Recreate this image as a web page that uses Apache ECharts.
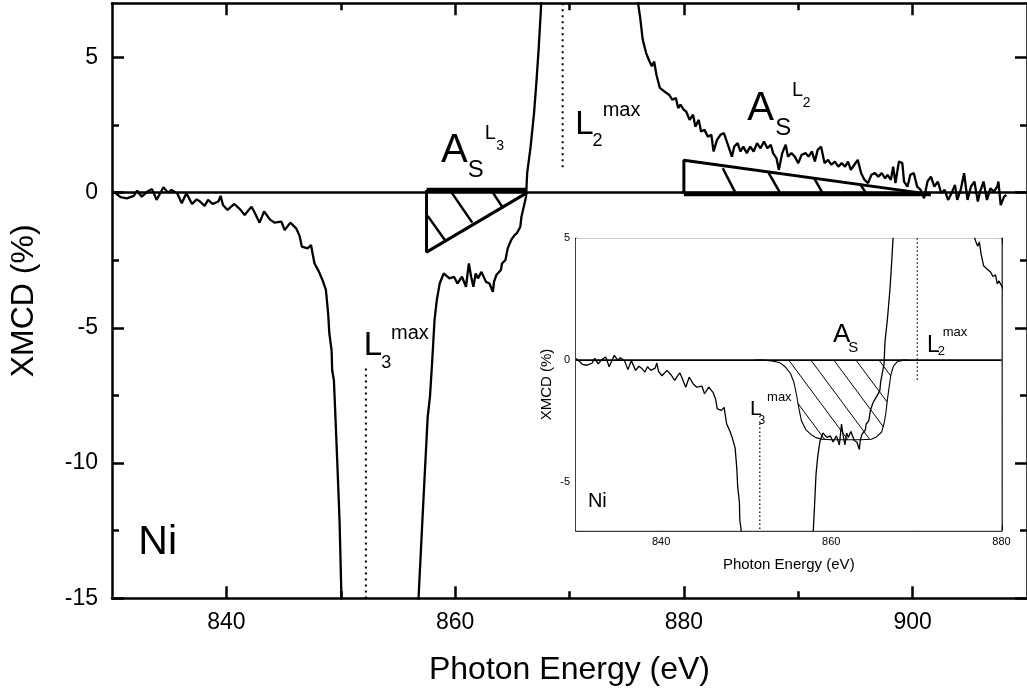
<!DOCTYPE html>
<html><head><meta charset="utf-8">
<script src="https://cdn.jsdelivr.net/npm/echarts@6/dist/echarts.min.js"></script>
<style>html,body{margin:0;padding:0;background:#fff}#c{width:1027px;height:692px}</style>
</head><body><div id="c"></div>
<script>
// ---------- data ----------
const energy = [830.0,830.3,830.75,831.3,831.9,832.2,832.6,833.1,833.5,833.9,834.5,834.9,835.2,835.7,836.1,836.5,837.0,837.4,837.7,838.1,838.4,838.8,839.3,839.5,839.7,840.1,840.7,841.2,841.6,841.9,842.2,842.5,842.9,843.3,843.8,844.2,844.8,845.1,845.6,846.1,846.4,846.6,847.1,847.4,847.7,848.1,848.4,848.7,848.9,849.0,849.2,849.25,849.4,849.5,849.7,849.9,850.06,850.2,856.6,856.8,857.2,857.6,857.8,858.0,858.1,858.2,858.4,858.65,859.0,859.5,859.9,860.2,860.6,860.95,861.2,861.4,861.6,861.8,862.0,862.3,862.7,863.0,863.3,863.4,863.6,864.0,864.1,864.4,864.6,864.9,865.2,865.4,865.7,865.8,866.0,866.2,866.3,866.6,866.9,867.1,867.3,867.5,867.7,875.7,876.0,876.2,876.4,876.7,877.0,877.2,877.4,877.6,877.9,878.3,878.7,879.0,879.3,879.5,879.7,880.0,880.2,880.5,880.8,881.0,881.3,881.5,881.8,882.1,882.4,882.6,882.9,883.2,883.5,883.8,884.2,884.4,884.7,884.95,885.2,885.5,885.8,886.1,886.4,886.7,887.0,887.3,887.6,887.8,888.1,888.3,888.6,888.9,889.1,889.4,889.7,890.0,890.3,890.65,890.9,891.2,891.45,891.7,892.0,892.3,892.6,892.9,893.2,893.5,893.8,894.1,894.35,894.6,894.9,895.2,895.5,895.8,896.1,896.4,896.7,897.0,897.3,897.6,897.8,898.1,898.3,898.5,898.8,899.1,899.25,899.55,899.8,900.1,900.4,900.7,901.0,901.3,901.6,901.9,902.2,902.5,902.8,903.1,903.4,903.7,903.9,904.2,904.5,904.8,905.1,905.4,905.7,905.9,906.2,906.5,906.8,907.1,907.4,907.5,907.7,908.0,908.2];
const xmcd = [0.07,-0.02,-0.17,-0.21,-0.12,0.07,-0.15,0.04,0.13,-0.27,0.2,0.0,0.1,-0.02,-0.39,-0.02,-0.42,-0.25,-0.33,-0.49,-0.27,-0.42,-0.33,-0.12,-0.46,-0.64,-0.42,-0.62,-0.83,-0.67,-0.52,-0.76,-1.11,-0.70,-0.99,-1.11,-1.07,-1.38,-1.11,-1.32,-1.6,-2.0,-2.06,-1.94,-2.61,-2.93,-3.23,-3.6,-4.47,-5.2,-5.83,-6.57,-6.94,-7.93,-10.0,-12.2,-14.96,-17.5,-17.5,-15.0,-11.6,-8.3,-7.55,-6.2,-5.46,-4.71,-3.97,-3.36,-2.99,-3.17,-3.11,-3.36,-3.11,-3.48,-2.62,-3.11,-3.48,-2.99,-3.17,-2.93,-3.3,-3.36,-3.67,-3.3,-3.05,-2.86,-2.62,-2.49,-2.06,-1.75,-1.57,-1.5,-1.26,-0.89,-0.52,-0.15,0.72,1.7,2.94,4.05,5.29,6.77,9.5,9.5,7.0,6.4,5.66,5.16,4.85,4.67,4.85,4.36,3.87,3.74,3.62,3.43,3.5,3.13,3.25,3.06,3.0,2.69,2.88,2.44,2.69,2.26,2.32,2.07,2.14,1.52,1.95,2.14,2.2,1.83,1.33,1.7,1.83,1.52,1.7,1.46,1.7,1.52,1.83,1.64,1.89,1.64,1.77,1.46,1.27,0.84,1.46,1.77,1.33,1.46,1.33,1.09,1.4,1.46,1.33,1.52,1.15,1.58,1.7,1.09,1.21,1.03,1.15,0.96,1.09,0.96,1.15,0.84,1.03,1.21,0.72,0.47,0.35,0.66,0.72,0.59,0.72,0.53,0.66,0.47,0.96,0.35,1.15,1.09,0.41,0.22,0.66,0.72,0.22,0.1,-0.21,0.41,0.59,0.22,0.41,-0.02,0.1,-0.27,-0.02,0.28,-0.27,0.1,0.72,-0.27,0.22,0.41,-0.33,0.04,0.41,-0.27,0.16,0.04,0.22,0.41,-0.46,-0.15,-0.09];
// step (edge-jump) curve of the inset
const stepEnergy = [851.0,852.0,853.0,854.0,854.6,855.2,855.6,855.9,856.2,856.5,857.0,857.6,858.2,858.8,860.0,863.5,864.7,865.3,865.9,866.2,866.4,866.6,866.8,867.0,867.3,867.8,868.5,869.0];
const stepXmcd   = [0,0,-0.03,-0.11,-0.28,-0.55,-0.9,-1.4,-2.0,-2.5,-2.85,-3.05,-3.18,-3.24,-3.27,-3.27,-3.25,-3.15,-2.96,-2.6,-2.2,-1.6,-1.1,-0.6,-0.25,-0.05,0,0];
// tick values
const mainXTicks = [840,860,880,900], mainXMinor = [850,870,890];
const mainYTicks = [-15,-10,-5,0,5],   mainYMinor = [-12.5,-7.5,-2.5,2.5];
const insetXTicks = [840,860,880],     insetXMinor = [850,870];
const insetYTicks = [-5,0,5],          insetYMinor = [-2.5,2.5];
// markers (eV) and shapes (eV, %)
const mainL3max = [[852.2,-6.5],[852.2,-15]];
const mainL2max = [[869.4,7],[869.4,0.9]];
const insetL3max = [[851.6,-2.6],[851.6,-7]];
const insetL2max = [[870.1,5],[870.1,-0.8]];
const triL3 = [[857.5,0.1],[857.5,-2.2],[866.3,0.0]];
const triL3Top = [[857.5,0.1],[866.3,0.1]];
const triL3Hatch = [[[859.7,0.0],[861.5,-1.11]],[[863.3,0.0],[864.2,-0.58]],[[857.6,-0.86],[859.1,-1.75]]];
const triL2 = [[880.0,-0.05],[880.0,1.2],[900.5,0.0]];
const triL2Base = [[880.0,-0.05],[901.6,-0.05]];
const triL2Hatch = [[[883.4,0.9],[884.5,0.0]],[[887.4,0.74],[888.4,0.0]],[[891.4,0.53],[892.1,0.0]],[[895.4,0.32],[895.9,0.0]]];
const insetHatchStarts = [852.3,855.0,857.6,860.3,862.9,865.6];
const insetHatchSlope = -0.47;
// text annotations: [eV, %, text, fontSize]
const mainTexts = [
  [858.76,1.53,'A',40],[861.1,0.84,'S',24],[862.6,2.19,'L',20],[863.6,1.73,'3',14],
  [885.55,3.1,'A',40],[887.98,2.38,'S',24],[889.46,3.79,'L',20],[890.4,3.32,'2',14],
  [870.5,2.51,'L',33],[872.0,1.9,'2',18],[872.9,3.03,'max',20],
  [852.0,-5.68,'L',33],[853.55,-6.29,'3',18],[854.4,-5.2,'max',20],
  [832.3,-12.94,'Ni',41]
];
const insetTexts = [
  [860.2,1.05,'A',26],[862.0,0.5,'S',15],
  [871.25,0.58,'L',23],[872.5,0.34,'2',13],[873.1,1.12,'max',13],
  [850.45,-2.0,'L',21],[851.45,-2.47,'3',12],[852.45,-1.55,'max',13],
  [831.4,-5.82,'Ni',20]
];

// ---------- helpers ----------
const FONT = '"Liberation Sans", Arial, Helvetica, sans-serif';
const INK = '#000';
const mainData = energy.map((e,i)=>[e, xmcd[i]]);
const stepData = stepEnergy.map((e,i)=>[e, stepXmcd[i]]);
function stepAt(x){
  if (x <= stepEnergy[0]) return stepXmcd[0];
  for (let i=1;i<stepEnergy.length;i++){
    if (x <= stepEnergy[i]){
      const t=(x-stepEnergy[i-1])/(stepEnergy[i]-stepEnergy[i-1]);
      return stepXmcd[i-1]+t*(stepXmcd[i]-stepXmcd[i-1]);
    }
  }
  return stepXmcd[stepXmcd.length-1];
}
function hatchRuns(x0){
  const runs=[]; let cur=null;
  for (let k=0;k<=2400;k++){
    const x=x0+k*0.005, y=insetHatchSlope*(x-x0);
    const inside = y >= stepAt(x)-1e-9;
    if (inside){ if(!cur) cur=[[x,y],[x,y]]; else cur[1]=[x,y]; }
    else if (cur){ runs.push(cur); cur=null; }
  }
  if (cur) runs.push(cur);
  return runs.filter(r=>r[1][0]-r[0][0]>0.15);
}
function line(points, xi, yi, width, type, z){
  return {type:'line', xAxisIndex:xi, yAxisIndex:yi, data:points, symbol:'none', showSymbol:false,
    lineStyle:{color:INK, width:width, type:type||'solid', cap:'butt', opacity:1}, z:z||3, silent:true, animation:false};
}
function texts(list, xi, yi){
  return {type:'scatter', xAxisIndex:xi, yAxisIndex:yi, symbolSize:0, silent:true, animation:false, z:10,
    itemStyle:{opacity:0},
    data:list.map(t=>({value:[t[0],t[1]], label:{show:true, formatter:t[2], fontSize:t[3], color:INK, opacity:1,
      fontFamily:FONT, textBorderWidth:0}})),
    label:{show:true, position:'right', distance:0, color:INK, fontFamily:FONT, align:'left', verticalAlign:'middle'}};
}
function xAx(grid, pos, min, max, vals, len, lw, showLine, label, name){
  const a = {type:'value', gridIndex:grid, position:pos, min:min, max:max,
    axisLine:{show:showLine, onZero:false, lineStyle:{color:INK, width:lw}},
    axisTick:{show:true, inside:true, length:len, customValues:vals, lineStyle:{color:INK, width:lw}},
    axisLabel: label ? Object.assign({show:true, customValues:vals, color:INK, fontFamily:FONT}, label) : {show:false},
    splitLine:{show:false}};
  if (name) Object.assign(a, name);
  return a;
}
const yAx = xAx;

// ---------- axes ----------
const xAxes = [
  xAx(0,'bottom',830,910,mainXTicks,12,2.5,true,{fontSize:23, margin:13},
      {name:'Photon Energy (eV)', nameLocation:'middle', nameGap:56, nameTextStyle:{fontSize:32, color:INK, fontFamily:FONT}}),
  xAx(0,'bottom',830,910,mainXMinor,7,2.5,false,null),
  xAx(0,'top',830,910,mainXTicks,12,2.5,true,null),
  xAx(0,'top',830,910,mainXMinor,7,2.5,false,null),
  xAx(1,'bottom',830,880,insetXTicks,6,1.5,true,{fontSize:11, margin:6},
      {name:'Photon Energy (eV)', nameLocation:'middle', nameGap:27, nameTextStyle:{fontSize:15, color:INK, fontFamily:FONT}}),
  xAx(1,'bottom',830,880,insetXMinor,4,1.5,false,null),
  xAx(1,'top',830,880,insetXTicks,6,1.5,true,null),
  xAx(1,'top',830,880,insetXMinor,4,1.5,false,null)
];
const yAxes = [
  yAx(0,'left',-15,7,mainYTicks,12,2.5,true,{fontSize:23, margin:14},
      {name:'XMCD (%)', nameLocation:'middle', nameGap:72, nameTextStyle:{fontSize:32, color:INK, fontFamily:FONT}}),
  yAx(0,'left',-15,7,mainYMinor,7,2.5,false,null),
  yAx(0,'right',-15,7,mainYTicks,12,2.5,true,null),
  yAx(0,'right',-15,7,mainYMinor,7,2.5,false,null),
  yAx(1,'left',-7,5,insetYTicks,6,1.5,true,{fontSize:11, margin:6},
      {name:'XMCD (%)', nameLocation:'middle', nameGap:22, nameTextStyle:{fontSize:15, color:INK, fontFamily:FONT}}),
  yAx(1,'left',-7,5,insetYMinor,4,1.5,false,null),
  yAx(1,'right',-7,5,insetYTicks,6,1.5,true,null),
  yAx(1,'right',-7,5,insetYMinor,4,1.5,false,null)
];

// ---------- series ----------
const series = [];
// main panel
series.push(line([[830,0],[910,0]],0,0,2.5));
series.push(line(mainData,0,0,2.3,'solid',4));
series.push(line(mainL3max,0,0,2,[2,4]));
series.push(line(mainL2max,0,0,2,[2,4]));
series.push(line(triL3,0,0,3));
series.push(line(triL3Top,0,0,4.5));
triL3Hatch.forEach(s=>series.push(line(s,0,0,2.5)));
series.push(line(triL2,0,0,3));
series.push(line(triL2Base,0,0,4.5));
triL2Hatch.forEach(s=>series.push(line(s,0,0,2.5)));
series.push(texts(mainTexts,0,0));
// inset panel
series.push(line([[830,0],[880,0]],4,4,1.8));
series.push(line(mainData,4,4,1.3,'solid',4));
series.push(line(stepData,4,4,1.1));
insetHatchStarts.forEach(x0=>hatchRuns(x0).forEach(r=>series.push(line(r,4,4,1))));
series.push(line(insetL3max,4,4,1.2,[1.5,2.5]));
series.push(line(insetL2max,4,4,1.2,[1.5,2.5]));
series.push(texts(insetTexts,4,4));

const chart = echarts.init(document.getElementById('c'), null, {renderer:'canvas'});
chart.setOption({
  animation:false,
  backgroundColor:'#fff',
  textStyle:{color:INK, fontFamily:FONT},
  grid:[
    {left:111.4, top:3.3, width:922.4, height:595, containLabel:false, show:false},
    {left:576, top:238.3, width:425.5, height:292.4, containLabel:false, show:true, backgroundColor:'#fff', borderWidth:0, z:1}
  ],
  xAxis:xAxes,
  yAxis:yAxes,
  series:series
});
</script></body></html>
